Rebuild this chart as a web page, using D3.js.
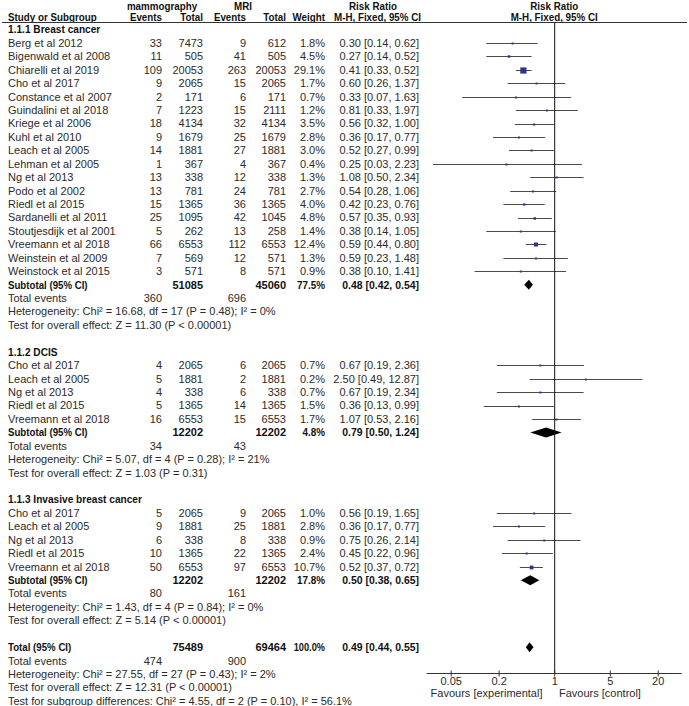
<!DOCTYPE html>
<html><head><meta charset="utf-8">
<script src="https://cdn.jsdelivr.net/npm/d3@7"></script>
<style>body{margin:0;background:#fff}svg{display:block}</style>
</head><body>
<script>
// ---- data ----
const groups = ["1.1.1 Breast cancer", "1.1.2 DCIS", "1.1.3 Invasive breast cancer"];
const studyGroup = [0,0,0,0,0,0,0,0,0,0,0,0,0,0,0,0,0,0, 1,1,1,1,1, 2,2,2,2,2];
const studies = ["Berg et al 2012","Bigenwald et al 2008","Chiarelli et al 2019","Cho et al 2017","Constance et al 2007","Guindalini et al 2018","Kriege et al 2006","Kuhl et al 2010","Leach et al 2005","Lehman et al 2005","Ng et al 2013","Podo et al 2002","Riedl et al 2015","Sardanelli et al 2011","Stoutjesdijk et al 2001","Vreemann et al 2018","Weinstein et al 2009","Weinstock et al 2015",
  "Cho et al 2017","Leach et al 2005","Ng et al 2013","Riedl et al 2015","Vreemann et al 2018",
  "Cho et al 2017","Leach et al 2005","Ng et al 2013","Riedl et al 2015","Vreemann et al 2018"];
const mammoEvents = [33,11,109,9,2,7,18,9,14,1,13,13,15,25,5,66,7,3, 4,5,4,5,16, 5,9,6,10,50];
const mammoTotal = [7473,505,20053,2065,171,1223,4134,1679,1881,367,338,781,1365,1095,262,6553,569,571, 2065,1881,338,1365,6553, 2065,1881,338,1365,6553];
const mriEvents = [9,41,263,15,6,15,32,25,27,4,12,24,36,42,13,112,12,8, 6,2,6,14,15, 9,25,8,22,97];
const mriTotal = [612,505,20053,2065,171,2111,4134,1679,1881,367,338,781,1365,1045,258,6553,571,571, 2065,1881,338,1365,6553, 2065,1881,338,1365,6553];
const weights = [1.8,4.5,29.1,1.7,0.7,1.2,3.5,2.8,3.0,0.4,1.3,2.7,4.0,4.8,1.4,12.4,1.3,0.9, 0.7,0.2,0.7,1.5,1.7, 1.0,2.8,0.9,2.4,10.7];
const rr = [0.30,0.27,0.41,0.60,0.33,0.81,0.56,0.36,0.52,0.25,1.08,0.54,0.42,0.57,0.38,0.59,0.59,0.38, 0.67,2.50,0.67,0.36,1.07, 0.56,0.36,0.75,0.45,0.52];
const rrLo = [0.14,0.14,0.33,0.26,0.07,0.33,0.32,0.17,0.27,0.03,0.50,0.28,0.23,0.35,0.14,0.44,0.23,0.10, 0.19,0.49,0.19,0.13,0.53, 0.19,0.17,0.26,0.22,0.37];
const rrHi = [0.62,0.52,0.52,1.37,1.63,1.97,1.00,0.77,0.99,2.23,2.34,1.06,0.76,0.93,1.05,0.80,1.48,1.41, 2.36,12.87,2.34,0.99,2.16, 1.65,0.77,2.14,0.96,0.72];

const subMammoTotal = [51085, 12202, 12202];
const subMriTotal = [45060, 12202, 12202];
const subWeight = ["77.5%", "4.8%", "17.8%"];
const subRR = [0.48, 0.79, 0.50];
const subLo = [0.42, 0.50, 0.38];
const subHi = [0.54, 1.24, 0.65];
const subMammoEvents = [360, 34, 80];
const subMriEvents = [696, 43, 161];
const subHet = ["Heterogeneity: Chi\u00b2 = 16.68, df = 17 (P = 0.48); I\u00b2 = 0%",
                "Heterogeneity: Chi\u00b2 = 5.07, df = 4 (P = 0.28); I\u00b2 = 21%",
                "Heterogeneity: Chi\u00b2 = 1.43, df = 4 (P = 0.84); I\u00b2 = 0%"];
const subTest = ["Test for overall effect: Z = 11.30 (P < 0.00001)",
                 "Test for overall effect: Z = 1.03 (P = 0.31)",
                 "Test for overall effect: Z = 5.14 (P < 0.00001)"];

const totalMammo = 75489, totalMri = 69464, totalWeight = "100.0%";
const totalRR = 0.49, totalLo = 0.44, totalHi = 0.55;
const totalMammoEvents = 474, totalMriEvents = 900;
const totalNotes = ["Heterogeneity: Chi\u00b2 = 27.55, df = 27 (P = 0.43); I\u00b2 = 2%",
                    "Test for overall effect: Z = 12.31 (P < 0.00001)",
                    "Test for subgroup differences: Chi\u00b2 = 4.55, df = 2 (P = 0.10), I\u00b2 = 56.1%"];
const axisTicks = [0.05, 0.2, 1, 5, 20];
const favLeft = "Favours [experimental]", favRight = "Favours [control]";

// ---- layout ----
const W = 689, H = 706;
const svg = d3.select("body").append("svg").attr("width", W).attr("height", H)
  .style("font-family", "Arial, 'Liberation Sans', sans-serif").style("font-size", "11px");
const txtCol = "#2b2b2b";
const colX = {name: 8, me: 162, mt: 203, re: 246, rt: 286, w: 325, rr: 419};
const x = d3.scaleLog().domain([0.05, 20]).range([450.7, 657.7]);
const y0 = 43, dy = 13.43;
const rowY = i => y0 + i * dy;
const fmt2 = d3.format(".2f");
const ciText = (a, b, c) => `${fmt2(a)} [${fmt2(b)}, ${fmt2(c)}]`;

// bold text in the reference is narrower than Arial Bold: squeeze words
function t(xp, yp, s, anchor, bold, squeeze) {
  const el = svg.append("text").attr("x", xp).attr("y", yp).attr("dy", "0.35em")
    .attr("text-anchor", anchor || "start").attr("fill", bold ? "#111" : txtCol)
    .attr("font-weight", bold ? "bold" : null).text(s);
  if (squeeze) {
    const len = el.node().getComputedTextLength();
    el.attr("textLength", len * squeeze).attr("lengthAdjust", "spacingAndGlyphs");
  }
  return el;
}
const SQ = 0.89;

// headers
t(162, 6, "mammography", "middle", true, SQ);
t(243, 6, "MRI", "middle", true, SQ);
t(373, 6, "Risk Ratio", "middle", true, SQ);
t(x(1), 6, "Risk Ratio", "middle", true, SQ);
t(colX.name, 16.8, "Study or Subgroup", "start", true, SQ);
t(colX.me, 16.8, "Events", "end", true, SQ);
t(colX.mt, 16.8, "Total", "end", true, SQ);
t(colX.re, 16.8, "Events", "end", true, SQ);
t(colX.rt, 16.8, "Total", "end", true, SQ);
t(colX.w, 16.8, "Weight", "end", true, SQ);
t(377.5, 16.8, "M-H, Fixed, 95% CI", "middle", true, SQ);
t(x(1), 16.8, "M-H, Fixed, 95% CI", "middle", true, SQ);
svg.append("line").attr("x1", 2).attr("x2", 687).attr("y1", 22.5).attr("y2", 22.5)
  .attr("stroke", "#333").attr("stroke-width", 1);

// build rows
let r = -1;
const plot = svg.append("g");
groups.forEach((g, gi) => {
  t(colX.name, rowY(r), g, "start", true, 0.92);
  r++;
  studies.forEach((s, i) => {
    if (studyGroup[i] !== gi) return;
    const yy = rowY(r);
    t(colX.name, yy, s);
    t(colX.me, yy, mammoEvents[i], "end");
    t(colX.mt, yy, mammoTotal[i], "end");
    t(colX.re, yy, mriEvents[i], "end");
    t(colX.rt, yy, mriTotal[i], "end");
    t(colX.w, yy, weights[i].toFixed(1) + "%", "end");
    t(colX.rr, yy, ciText(rr[i], rrLo[i], rrHi[i]), "end");
    plot.append("line").attr("x1", x(rrLo[i])).attr("x2", x(rrHi[i]))
      .attr("y1", Math.round(yy) + 0.5).attr("y2", Math.round(yy) + 0.5)
      .attr("stroke", "#4a4a4a").attr("stroke-width", 1);
    const side = Math.max(2, 1.15 * Math.sqrt(weights[i]));
    plot.append("rect").attr("x", x(rr[i]) - side / 2).attr("y", Math.round(yy) + 0.5 - side / 2)
      .attr("width", side).attr("height", side).attr("fill", "#33338f");
    r++;
  });
  // subtotal
  let yy = rowY(r);
  t(colX.name, yy, "Subtotal (95% CI)", "start", true, 0.88);
  t(colX.mt, yy, subMammoTotal[gi], "end", true);
  t(colX.rt, yy, subMriTotal[gi], "end", true);
  t(colX.w, yy, subWeight[gi], "end", true, 0.9);
  t(colX.rr, yy, ciText(subRR[gi], subLo[gi], subHi[gi]), "end", true, 0.95);
  const dh = 5;
  plot.append("path").attr("d",
    `M${x(subLo[gi])},${yy} L${x(subRR[gi])},${yy - dh} L${x(subHi[gi])},${yy} L${x(subRR[gi])},${yy + dh} Z`)
    .attr("fill", "#000");
  r++;
  yy = rowY(r);
  t(colX.name, yy, "Total events");
  t(colX.me, yy, subMammoEvents[gi], "end");
  t(colX.re, yy, subMriEvents[gi], "end");
  r++;
  t(colX.name, rowY(r), subHet[gi]); r++;
  t(colX.name, rowY(r), subTest[gi]); r++;
  r++; // blank row; next group header sits here
});

// overall total
let yy = rowY(r);
t(colX.name, yy, "Total (95% CI)", "start", true, 0.88);
t(colX.mt, yy, totalMammo, "end", true);
t(colX.rt, yy, totalMri, "end", true);
t(colX.w, yy, totalWeight, "end", true, 0.84);
t(colX.rr, yy, ciText(totalRR, totalLo, totalHi), "end", true, 0.95);
plot.append("path").attr("d",
  `M${x(totalLo)},${yy} L${x(totalRR)},${yy - 5} L${x(totalHi)},${yy} L${x(totalRR)},${yy + 5} Z`)
  .attr("fill", "#000");
r++;
yy = rowY(r);
t(colX.name, yy, "Total events");
t(colX.me, yy, totalMammoEvents, "end");
t(colX.re, yy, totalMriEvents, "end");
r++;
totalNotes.forEach(n => { t(colX.name, rowY(r), n); r++; });

// axis
const axisY = 673.5;
svg.append("line").attr("x1", x(1) + 0.5).attr("x2", x(1) + 0.5).attr("y1", 22.5).attr("y2", axisY)
  .attr("stroke", "#111").attr("stroke-width", 1);
svg.append("line").attr("x1", 426.7).attr("x2", 681.7).attr("y1", axisY).attr("y2", axisY)
  .attr("stroke", "#333").attr("stroke-width", 1);
const axG = svg.append("g").attr("transform", `translate(0,${axisY - 3})`)
  .call(d3.axisBottom(x).tickValues(axisTicks).tickFormat(d => String(d)).tickSize(6).tickPadding(1));
axG.select(".domain").remove();
axG.selectAll(".tick line").attr("stroke", "#333");
axG.selectAll(".tick text").attr("fill", txtCol).style("font-size", "11px")
  .style("font-family", "Arial, 'Liberation Sans', sans-serif");
t(542.5, 693.3, favLeft, "end");
t(559, 693.3, favRight, "start");
</script>
</body></html>
